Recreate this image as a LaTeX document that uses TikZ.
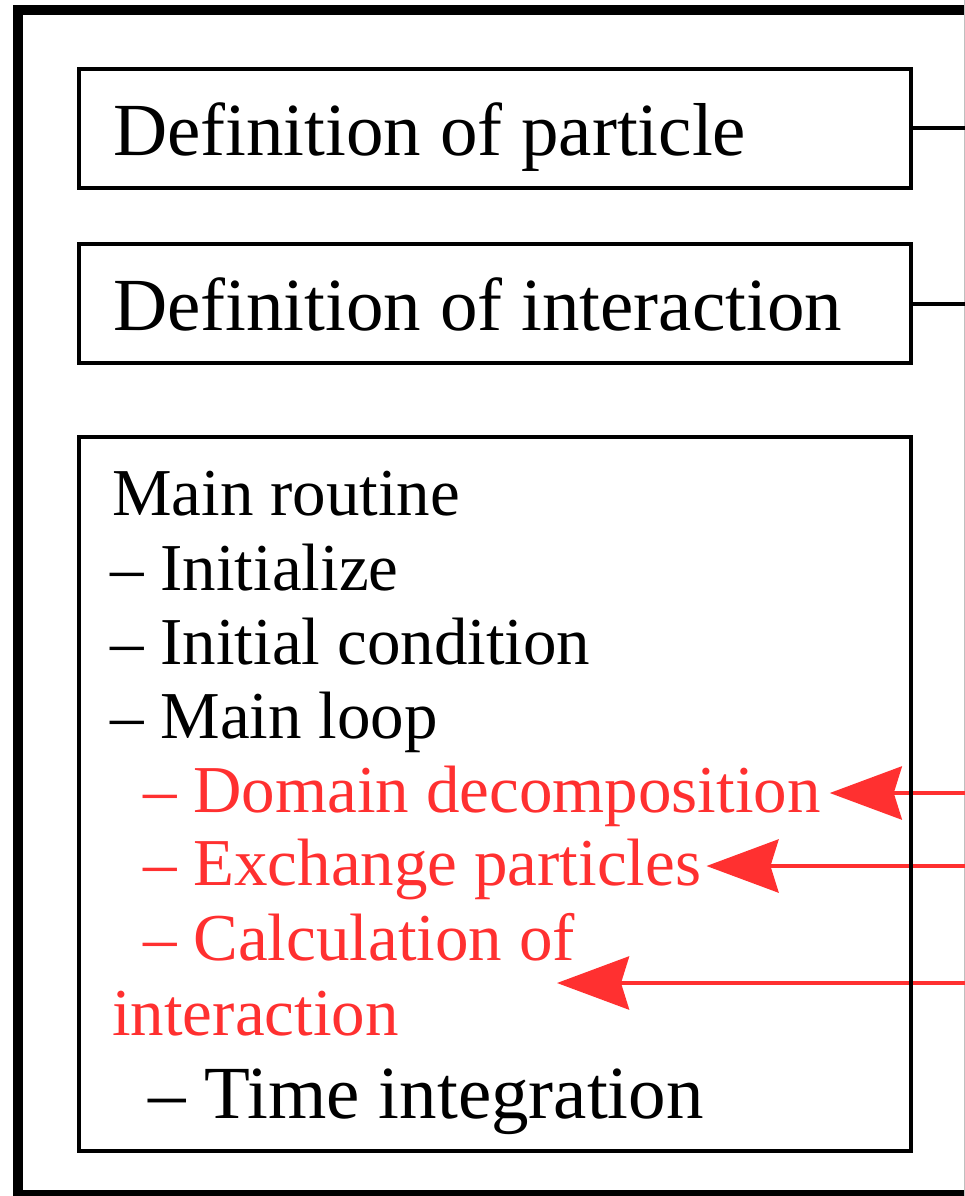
\documentclass[tikz,border=0pt]{standalone}
\usepackage{fontspec}
\setmainfont{Liberation Serif}
\usetikzlibrary{arrows.meta,positioning}
\definecolor{markred}{RGB}{255,48,48}

\begin{document}
\begin{tikzpicture}[x=1pt, y=-1pt,
      defbox/.style  = {rectangle, draw, line width=4.5pt, outer sep=0pt,
                        text width=764pt, inner xsep=34pt, minimum height=119pt,
                        text height=60pt, text depth=7pt,
                        align=flush left, font=\fontsize{75}{90}\selectfont},
      mainbox/.style = {rectangle, draw, line width=4.5pt, outer sep=0pt,
                        minimum width=832pt, minimum height=714pt},
      item/.style    = {anchor=base west, inner sep=0pt,
                        text height=46pt, text depth=8pt,
                        font=\fontsize{67}{80}\selectfont},
      hot/.style     = {item, text=markred},
      link/.style    = {line width=4pt, black},
      redarrow/.style = {-{Stealth[length=72pt, width=53pt, inset=8pt]},
                         line width=4.5pt, markred}
    ]
    \useasboundingbox (0,0) rectangle (965,1196);
    \clip (0,0) rectangle (965,1196);

    % outer frame, cut by the page edge
    \draw[line width=10pt] (990,10) -- (18,10) -- (18,1195) -- (990,1195);
    \draw[gray!50, line width=1.5pt] (964.3,0) -- (964.3,1196);

    \node[defbox] (particle) at (495,128.5) {Definition of particle};
    \node[defbox, below=56pt of particle] (interact) {Definition of interaction};

    \node[item] (title)   at (112,515)  {Main routine};
    \node[item] (init)    at (110,590)  {– Initialize};
    \node[item] (cond)    at (110,664)  {– Initial condition};
    \node[item] (loop)    at (110,738)  {– Main loop};
    \node[hot]  (decomp)  at (143,812)  {– Domain decomposition};
    \node[hot]  (exch)    at (143,885)  {– Exchange particles};
    \node[hot]  (calc)    at (143,960)  {– Calculation of};
    \node[hot]  (calcb)   at (112,1035) {interaction};
    \node[item, font=\fontsize{75}{90}\selectfont] (timeint) at (148,1118) {– Time integration};

    \coordinate (rim)   at (975,0);
    \coordinate (edgeD) at (975,793);
    \coordinate (edgeE) at (975,866);
    \coordinate (edgeC) at (975,983);
    \coordinate (calctip) at (557,983);

    \draw[link] (particle.east) -- (particle.east -| rim);
    \draw[link] (interact.east) -- (interact.east -| rim);
    \draw[redarrow, shorten >=9pt] (edgeD) -- (decomp.east);
    \draw[redarrow, shorten >=5pt] (edgeE) -- (exch.east);
    \draw[redarrow] (edgeC) -- (calctip);

    \node[mainbox, below=74pt of interact] (main) {};
  \end{tikzpicture}
\end{document}
